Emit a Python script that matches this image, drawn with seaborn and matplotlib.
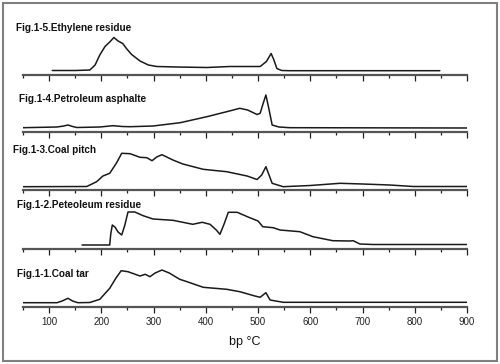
import numpy as np
import pandas as pd
import matplotlib
matplotlib.use('Agg')
import matplotlib.pyplot as plt
import seaborn as sns
from matplotlib.ticker import MultipleLocator

# Fig.1-5 Ethylene residue
t_ethylene = [106, 150, 178, 188, 197, 207, 217, 224, 232, 241, 248, 258, 274, 290, 306, 344, 402,
              446, 478, 504, 516, 525, 530, 536, 545, 560, 848]
h_ethylene = [4, 4, 4.5, 9.5, 19.5, 28, 33, 37, 33.5, 31, 26, 20, 13.5, 9.5, 8, 7.5, 7,
              8, 8, 8, 13, 21, 15, 6, 4, 3.8, 3.8]

# Fig.1-4 Petroleum asphalte
t_asphalte = [50, 115, 128, 136, 145, 153, 197, 222, 240, 255, 299, 351, 402, 440, 465, 480, 498,
              504, 510, 515, 520, 527, 540, 561, 900]
h_asphalte = [4.3, 5, 6, 7, 5.5, 4.5, 5, 6.3, 5.5, 5.3, 6, 9.3, 15.3, 20.3, 23.7, 22, 17.5,
              18.7, 29, 37, 25, 7, 5, 4.3, 4]

# Fig.1-3 Coal pitch
t_pitch = [50, 172, 191, 203, 216, 229, 239, 255, 274, 287, 297, 306, 316, 337, 356, 395, 440, 479,
           498, 507, 515, 521, 527, 548, 600, 657, 700, 752, 797, 900]
h_pitch = [3.3, 3.5, 8.3, 14, 16.7, 27, 36.7, 36.3, 32.7, 32.3, 29.3, 33, 35.3, 30, 26, 20.7, 18.3, 14,
           10.5, 15, 23.3, 15, 6.7, 3.3, 4.5, 6.7, 6, 5, 3.5, 3.5]

# Fig.1-2 Peteoleum residue
t_residue = [163, 216, 218, 221, 226, 232, 239, 245, 251, 264, 280, 299, 337, 375, 393, 408, 420, 427,
             435, 443, 460, 484, 500, 509, 529, 542, 580, 605, 643, 676, 682, 695, 720, 900]
h_residue = [4, 4, 15, 24, 22, 17, 14, 24, 37, 37, 33.3, 30, 28.7, 24.7, 26.7, 24.7, 19, 14.7,
             25, 36.7, 36.7, 31.3, 28, 22.3, 21.3, 19, 17.3, 12.3, 8.3, 8, 8.3, 5, 4.5, 4.5]

# Fig.1-1 Coal tar
t_tar = [50, 115, 125, 136, 145, 155, 178, 197, 216, 228, 238, 251, 274, 284, 293, 303, 316, 330,
         350, 364, 395, 440, 465, 494, 504, 515, 523, 548, 900]
h_tar = [4.3, 4.3, 6, 8.7, 6, 4.3, 4.5, 7.7, 18.7, 29, 36.3, 35.3, 31, 32.7, 30.3, 34, 37, 34,
         27.7, 25.3, 19.7, 17.7, 15.3, 11, 9.7, 14.3, 7, 4.7, 4.7]

titles = ['Fig.1-5.Ethylene residue', 'Fig.1-4.Petroleum asphalte', 'Fig.1-3.Coal pitch',
          'Fig.1-2.Peteoleum residue', 'Fig.1-1.Coal tar']
tick_values = [100, 200, 300, 400, 500, 600, 700, 800, 900]

series = [(t_ethylene, h_ethylene), (t_asphalte, h_asphalte), (t_pitch, h_pitch),
          (t_residue, h_residue), (t_tar, h_tar)]

sns.set_style('ticks')
plt.rcParams['font.family'] = ['Liberation Sans', 'DejaVu Sans']

W, H = 500, 364
fig = plt.figure(figsize=(5.0, 3.64), dpi=100)

baselines = [74.5, 132, 190, 249, 307]
title_pos = [(16, 28), (19, 99), (13, 150), (17, 205.5), (17, 274)]

for i, ((t, h), base) in enumerate(zip(series, baselines)):
    ax = fig.add_axes([23 / W, (H - base) / H, 444 / W, 50 / H])
    df = pd.DataFrame({'bp': t, 'signal': h})
    sns.lineplot(data=df, x='bp', y='signal', ax=ax, color='#1a1a1a', linewidth=1.1, sort=False)
    ax.set_xlim(50, 900)
    ax.set_ylim(0, 50)
    ax.patch.set_alpha(0)
    for s in ['top', 'right', 'left']:
        ax.spines[s].set_visible(False)
    ax.spines['bottom'].set_color('#555555')
    ax.spines['bottom'].set_linewidth(1.6)
    ax.set_yticks([])
    ax.set_ylabel('')
    ax.set_xlabel('')
    ax.xaxis.set_major_locator(MultipleLocator(100))
    ax.xaxis.set_minor_locator(MultipleLocator(50))
    ax.tick_params(axis='x', which='major', length=4, width=0.9, color='#222222', direction='out')
    ax.tick_params(axis='x', which='minor', length=2.5, width=0.9, color='#222222', direction='out')
    if i < 4:
        ax.set_xticklabels([])
    else:
        ax.set_xticks(tick_values)
        ax.set_xticklabels([str(v) for v in tick_values], fontsize=7, color='#222222')
        ax.tick_params(axis='x', which='major', pad=3)
    tx, ty = title_pos[i]
    fig.text(tx / W, 1 - ty / H, titles[i], fontsize=7.2, fontweight='bold',
             ha='left', va='center', color='#111111')

fig.text(245 / W, 1 - 342 / H, 'bp \u00b0C', fontsize=9, ha='center', va='center', color='#111111')

fig.add_artist(plt.Rectangle((3 / W, 3 / H), 494 / W, 358 / H, transform=fig.transFigure,
                             fill=False, edgecolor='#808080', linewidth=1.5))

fig.savefig('out.png', dpi=100)
